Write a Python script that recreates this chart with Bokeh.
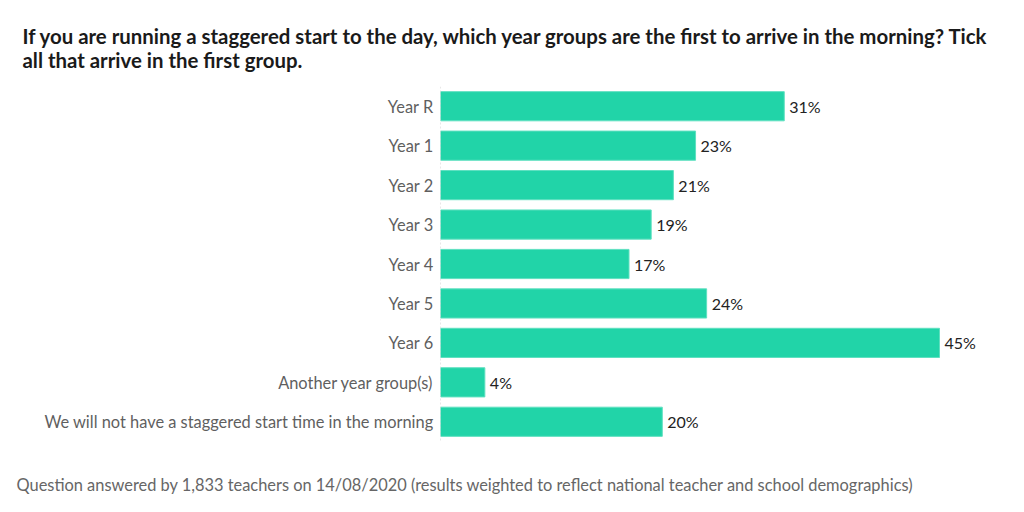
from bokeh.plotting import figure
from bokeh.models import Range1d, Span, Title, ColumnDataSource
from bokeh.embed import file_html
from bokeh.resources import INLINE
from bokeh.core.properties import value

categories = ["Year R", "Year 1", "Year 2", "Year 3", "Year 4", "Year 5", "Year 6",
              "Another year group(s)", "We will not have a staggered start time in the morning"]
values = [31, 23, 21, 19, 17, 24, 45, 4, 20]
value_labels = [f"{v}%" for v in values]
title_lines = ["If you are running a staggered start to the day, which year groups are the first to arrive in the morning? Tick",
               "all that arrive in the first group."]
footer = "Question answered by 1,833 teachers on 14/08/2020 (results weighted to reflect national teacher and school demographics)"

FONT = "Lato"
W, H = 1024, 512

src = ColumnDataSource(dict(cat=categories, val=values, lab=value_labels))

p = figure(width=W, height=H, y_range=list(reversed(categories)), x_range=Range1d(0, 50.5),
           output_backend="svg", toolbar_location=None, title=None,
           min_border_left=440, min_border_right=24, min_border_top=86, min_border_bottom=71)
p.outline_line_color = None
p.grid.grid_line_color = None
p.xaxis.visible = False
p.yaxis.axis_line_color = None
p.yaxis.major_tick_line_color = None
p.yaxis.minor_tick_line_color = None
p.yaxis.major_label_text_font = FONT
p.yaxis.major_label_text_font_size = "16.4px"
p.yaxis.major_label_text_color = "#5f5f5f"
p.yaxis.major_label_standoff = 1

p.add_layout(Span(location=0, dimension="height", line_color="#d0d0d0", line_dash="2 2", line_width=1))

p.hbar(y="cat", right="val", left=0, height=0.74, source=src,
       fill_color="#21d4a8", line_color="#5fe0c0", line_width=1)
p.text(x="val", y="cat", text="lab", source=src, x_offset=5, text_baseline="middle",
       text_font=value(FONT), text_font_size="16px", text_color="#222222")

p.add_layout(Title(text="\n".join(title_lines), align="left", offset=-418, standoff=30,
                   text_font=FONT, text_font_size="20.4px", text_font_style="bold",
                   text_line_height=1.0, text_color="#1a1a1a"), "above")
# blank spacer panel between the plot frame and the footer note
p.add_layout(Title(text=" ", align="left", standoff=10, text_font=FONT,
                   text_font_size="16px"), "below")
p.add_layout(Title(text=footer, align="left", offset=-424, standoff=0,
                   text_font=FONT, text_font_size="16.4px", text_font_style="normal",
                   text_color="#666666"), "below")

open("out.html", "w").write(file_html(p, INLINE))
